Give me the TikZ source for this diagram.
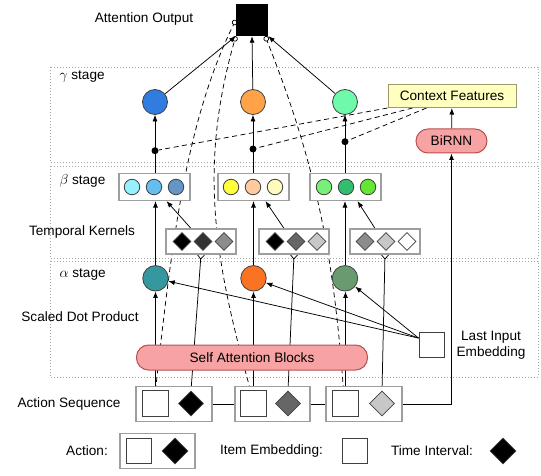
\documentclass[tikz,border=0pt]{standalone}
\usepackage{fontspec}
\setmainfont{Liberation Sans}
\usetikzlibrary{calc,arrows.meta,shapes.geometric,backgrounds}
\definecolor{gbleu}{RGB}{48,124,224}
\definecolor{gorange}{RGB}{255,162,72}
\definecolor{gvert}{RGB}{110,250,170}
\definecolor{ajaune}{RGB}{255,255,192}
\definecolor{arouge}{RGB}{248,163,163}
\definecolor{brouge}{RGB}{185,80,80}
\definecolor{ateal}{RGB}{52,152,158}
\definecolor{aorange}{RGB}{250,115,35}
\definecolor{avert}{RGB}{105,155,110}
\tikzset{
    every node/.style={font=\fontsize{13.6}{15.5}\selectfont},
    cadre/.style={draw=black!35,line width=0.8pt,dash pattern=on 1pt off 2pt},
    boite/.style={draw=black!38,fill=white,line width=1.2pt,inner sep=0},
    rond/.style={circle,draw=black!75,line width=0.8pt,inner sep=0,minimum size=#1},
    losange/.style={diamond,draw=black!75,line width=0.8pt,inner sep=0,minimum size=#1},
    carre/.style={draw=black!75,fill=white,line width=0.8pt,inner sep=0,minimum size=#1},
    point/.style={circle,fill=black,inner sep=0,minimum size=7pt},
    fleche/.style={line width=0.75pt,-{Latex[length=6.5pt,width=5pt]}},
    fourche/.style={line width=0.75pt,-{Straight Barb[reversed,length=4pt,width=7pt]}},
    tirets/.style={line width=0.75pt,dash pattern=on 5pt off 3.5pt},
    sortie/.style={tirets,-{Circle[open,length=5.5pt,line width=0.75pt]}},
  }

\begin{document}
\begin{tikzpicture}[x=1pt,y=-1pt]
	\useasboundingbox (0,0) rectangle (541,476);
	%SORTIE
	\node[fill=black,minimum size=32pt,inner sep=0] (attn) at (252,20) {};
	\node (lattn) at (144,19) {Attention Output};
	%GAMMA
	\node[anchor=west] (lg) at (56,77) {$\gamma$ stage};
	\node[rond=25pt,fill=gbleu] (g1) at (155,102) {};
	\node[rond=25pt,fill=gorange] (g2) at (253,102) {};
	\node[rond=25pt,fill=gvert] (g3) at (345,102) {};
	\node[draw=black!45!olive!60,fill=ajaune,line width=1pt,minimum width=128pt,minimum height=23pt,inner sep=0] (cf) at (452,96) {Context Features};
	\node[draw=brouge,fill=arouge,line width=1pt,rounded corners=12pt,minimum width=71pt,minimum height=24pt,inner sep=0] (birnn) at (451.5,141) {BiRNN};
	\node[point] (p1) at (155,150.7) {};
	\node[point] (p2) at (253,149) {};
	\node[point] (p3) at (345,141.7) {};
	%BETA
	\node[anchor=west] (lb) at (56,181) {$\beta$ stage};
	\node[boite,minimum width=71pt,minimum height=27pt] (b1) at (154.5,187) {};
	\node[boite,minimum width=71pt,minimum height=27pt] (b2) at (253.5,187) {};
	\node[boite,minimum width=71pt,minimum height=27pt] (b3) at (345.5,187) {};
	\node[rond=15.5pt,fill={rgb,255:red,150;green,240;blue,255}] (b11) at (132,187) {};
	\node[rond=15.5pt,fill={rgb,255:red,100;green,190;blue,240}] (b12) at (154,187) {};
	\node[rond=15.5pt,fill={rgb,255:red,100;green,150;blue,200}] (b13) at (176,187) {};
	\node[rond=15.5pt,fill={rgb,255:red,255;green,255;blue,60}] (b21) at (231,187) {};
	\node[rond=15.5pt,fill={rgb,255:red,255;green,202;blue,160}] (b22) at (253,187) {};
	\node[rond=15.5pt,fill={rgb,255:red,255;green,250;blue,190}] (b23) at (275,187) {};
	\node[rond=15.5pt,fill={rgb,255:red,120;green,240;blue,120}] (b31) at (324,187) {};
	\node[rond=15.5pt,fill={rgb,255:red,50;green,190;blue,110}] (b32) at (346,187) {};
	\node[rond=15.5pt,fill={rgb,255:red,100;green,230;blue,50}] (b33) at (368,187) {};
	%NOYAUX
	\node (lk) at (82,232) {Temporal Kernels};
	\node[boite,minimum width=70pt,minimum height=25pt] (k1) at (201,241.5) {};
	\node[boite,minimum width=70pt,minimum height=25pt] (k2) at (294,241.5) {};
	\node[boite,minimum width=70pt,minimum height=25pt] (k3) at (385,241.5) {};
	\node[losange=18pt,fill=black] (k11) at (182,241.5) {};
	\node[losange=18pt,fill=black!80] (k12) at (203,241.5) {};
	\node[losange=18pt,fill=black!45] (k13) at (224,241.5) {};
	\node[losange=18pt,fill=black] (k21) at (275,241.5) {};
	\node[losange=18pt,fill=black!60] (k22) at (296,241.5) {};
	\node[losange=18pt,fill=black!22] (k23) at (317,241.5) {};
	\node[losange=18pt,fill=black!45] (k31) at (365,241.5) {};
	\node[losange=18pt,fill=black!22] (k32) at (386,241.5) {};
	\node[losange=18pt,fill=white] (k33) at (407,241.5) {};
	%ALPHA
	\node[anchor=west] (la) at (56,275) {$\alpha$ stage};
	\node[rond=25.5pt,fill=ateal] (a1) at (155.5,278.3) {};
	\node[rond=25.5pt,fill=aorange] (a2) at (253.5,278.3) {};
	\node[rond=25.5pt,fill=avert] (a3) at (345,278.3) {};
	\node (ls) at (80,317) {Scaled Dot Product};
	\node[carre=25pt] (lie) at (431.5,345) {};
	\node[align=center] (llie) at (491,345) {Last Input\\Embedding};
	\coordinate (l0) at ($(lie.north west)+(0,6)$);
	%SEQUENCE
	\node (lseq) at (69,404) {Action Sequence};
	\node[boite,minimum width=76pt,minimum height=35pt] (ab1) at (174,404) {};
	\node[boite,minimum width=75pt,minimum height=35pt] (ab2) at (272.5,404) {};
	\node[boite,minimum width=76pt,minimum height=35pt] (ab3) at (364,404) {};
	\node[carre=26pt] (s1) at (155.5,403.7) {};
	\node[carre=26pt] (s2) at (253.5,403.7) {};
	\node[carre=26pt] (s3) at (345.5,403.7) {};
	\node[losange=25pt,fill=black] (t1) at (191,403.5) {};
	\node[losange=25pt,fill=black!60] (t2) at (288,403.5) {};
	\node[losange=25pt,fill=black!22] (t3) at (382,403.5) {};
	%LEGENDE
	\node (lact) at (87,451) {Action:};
	\node[boite,minimum width=75pt,minimum height=35pt] (act) at (157.5,451) {};
	\node[carre=25pt] (acts) at (139,451) {};
	\node[losange=26pt,fill=black] (actt) at (175,451) {};
	\node (litem) at (271.5,451) {Item Embedding:};
	\node[carre=25pt] (item) at (355,451) {};
	\node (ltime) at (432,451) {Time Interval:};
	\node[losange=26pt,fill=black] (time) at (503,451) {};
	%LIENS
	\begin{pgfonlayer}{background}
	\draw[cadre] (50,67) rectangle (538,162);
	\draw[cadre] (50,166) rectangle (538,258);
	\draw[cadre] (50,261) rectangle (538,377);
	\draw[fleche] (g1) -- (attn.south west);
	\draw[fleche] (g2) -- (attn.south);
	\draw[fleche] (g3) -- (attn.south east);
	\draw[fleche] (b1.north -| g1) -- (g1);
	\draw[fleche] (b2.north -| g2) -- (g2);
	\draw[fleche] (b3.north -| g3) -- (g3);
	\draw[tirets] (cf.south west) -- (p1);
	\draw[tirets] ($(cf.south west)+(25,0)$) -- (p2);
	\draw[tirets] ($(cf.south west)+(39,0)$) -- (p3);
	\draw[fleche] (birnn) -- (cf);
	\draw[fleche] ($(k1.north)+(-10,0)$) -- ($(b1.south)+(12,0)$);
	\draw[fleche] ($(k2.north)+(-10,0)$) -- ($(b2.south)+(12,0)$);
	\draw[fleche] ($(k3.north)+(-10,0)$) -- ($(b3.south)+(12,0)$);
	\draw[fleche] (a1) -- (a1 |- b1.south);
	\draw[fleche] (a2) -- (a2 |- b2.south);
	\draw[fleche] (a3) -- (a3 |- b3.south);
	\draw[fleche] (l0) -- (a1);
	\draw[fleche] (l0) -- (a2);
	\draw[fleche] (l0) -- (a3);
	\draw[fleche] (s1.north) -- (s1.north |- a1.south);
	\draw[fleche] (s2.north) -- (s2.north |- a2.south);
	\draw[fleche] (s3.north) -- (s3.north |- a3.south);
	\draw[fourche] (t1.north) -- (k1.south);
	\draw[fourche] (t2.north) -- (k2.south);
	\draw[fourche] (t3.north) -- (k3.south);
	%courbes vers la sortie
	\draw[sortie] (s1.north) .. controls (172,241) and (186,121) .. (attn.west);
	\draw[sortie] ($(s2.north)+(-3,0)$) .. controls (215,261) and (198,169) .. (attn.south west);
	\draw[sortie] ($(s3.north)+(-2,0)$) .. controls (334,261) and (318,169) .. ($(attn.south east)+(-3,0)$);
	\draw[line width=0.75pt] (ab1) -- (ab2);
	\draw[line width=0.75pt] (ab2) -- (ab3);
	\draw[fleche] (ab3.east) -| (birnn.south);
	\end{pgfonlayer}
	\node[draw=brouge,fill=arouge,line width=1pt,rounded corners=12pt,minimum width=231pt,minimum height=25pt,inner sep=0] (sab) at (252,357.5) {Self Attention Blocks};
\end{tikzpicture}
\end{document}
